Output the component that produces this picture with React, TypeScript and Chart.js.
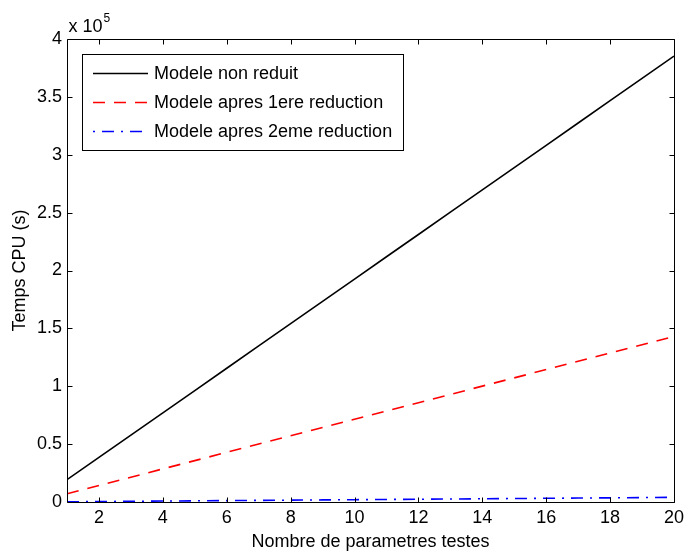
import { useEffect, useRef } from "react";
import { Chart, registerables } from "chart.js";

Chart.register(...registerables);

const params = [1, 2, 3, 4, 5, 6, 7, 8, 9, 10, 11, 12, 13, 14, 15, 16, 17, 18, 19, 20];
const nonReduit = [19260, 38520, 57780, 77040, 96300, 115560, 134820, 154080, 173340, 192600, 211860, 231120, 250380, 269640, 288900, 308160, 327420, 346680, 365940, 385200];
const reduction1 = [7150, 14300, 21450, 28600, 35750, 42900, 50050, 57200, 64350, 71500, 78650, 85800, 92950, 100100, 107250, 114400, 121550, 128700, 135850, 143000];
const reduction2 = [200, 400, 600, 800, 1000, 1200, 1400, 1600, 1800, 2000, 2200, 2400, 2600, 2800, 3000, 3200, 3400, 3600, 3800, 4000];
const seriesLabels = ["Modele non reduit", "Modele apres 1ere reduction", "Modele apres 2eme reduction"];
const xTicks = [2, 4, 6, 8, 10, 12, 14, 16, 18, 20];
const yTicks = [0, 50000, 100000, 150000, 200000, 250000, 300000, 350000, 400000];
const yTickLabels = ["0", "0.5", "1", "1.5", "2", "2.5", "3", "3.5", "4"];
const xTitle = "Nombre de parametres testes";
const yTitle = "Temps CPU (s)";

const FONT = '"Liberation Sans", Arial, Helvetica, sans-serif';

const framePlugin = {
  id: "matlabFrame",
  afterDraw(chart: any) {
    const { ctx, chartArea: a, scales } = chart;
    const xs = scales.x;
    const ys = scales.y;
    ctx.save();
    ctx.strokeStyle = "#000";
    ctx.lineWidth = 1;
    const L = Math.round(a.left) + 0.5;
    const R = Math.round(a.right) + 0.5;
    const T = Math.round(a.top) + 0.5;
    const B = Math.round(a.bottom) + 0.5;
    ctx.beginPath();
    ctx.rect(L, T, R - L, B - T);
    ctx.stroke();
    const tl = 5;
    ctx.beginPath();
    xTicks.forEach((v) => {
      const px = Math.round(xs.getPixelForValue(v)) + 0.5;
      ctx.moveTo(px, B);
      ctx.lineTo(px, B - tl);
      ctx.moveTo(px, T);
      ctx.lineTo(px, T + tl);
    });
    yTicks.forEach((v) => {
      const py = Math.round(ys.getPixelForValue(v)) + 0.5;
      ctx.moveTo(L, py);
      ctx.lineTo(L + tl, py);
      ctx.moveTo(R, py);
      ctx.lineTo(R - tl, py);
    });
    ctx.stroke();

    // multiplier
    ctx.fillStyle = "#000";
    ctx.font = `18px ${FONT}`;
    ctx.textBaseline = "alphabetic";
    ctx.textAlign = "left";
    ctx.fillText("x 10", L + 1, 32);
    const w = ctx.measureText("x 10").width;
    ctx.font = `12px ${FONT}`;
    ctx.fillText("5", L + 1 + w + 1, 22);

    // axis titles
    ctx.font = `18px ${FONT}`;
    ctx.textAlign = "center";
    ctx.textBaseline = "alphabetic";
    ctx.fillText(xTitle, (a.left + a.right) / 2, 547);
    ctx.save();
    ctx.translate(25, (a.top + a.bottom) / 2);
    ctx.rotate(-Math.PI / 2);
    ctx.fillText(yTitle, 0, 0);
    ctx.restore();

    // legend
    const bx = 82.5, by = 54.5, bw = 321, bh = 96;
    ctx.fillStyle = "#fff";
    ctx.fillRect(bx, by, bw, bh);
    ctx.strokeStyle = "#000";
    ctx.lineWidth = 1;
    ctx.strokeRect(bx, by, bw, bh);
    const rows = [73, 102, 131];
    chart.data.datasets.forEach((ds: any, i: number) => {
      const y = rows[i] + 0.5;
      ctx.save();
      ctx.strokeStyle = ds.borderColor;
      ctx.lineWidth = ds.borderWidth;
      ctx.setLineDash(ds.legendDash || ds.borderDash || []);
      ctx.beginPath();
      ctx.moveTo(93, y);
      ctx.lineTo(148, y);
      ctx.stroke();
      ctx.restore();
      ctx.fillStyle = "#000";
      ctx.font = `18px ${FONT}`;
      ctx.textAlign = "left";
      ctx.textBaseline = "alphabetic";
      ctx.fillText(ds.label, 154, rows[i] + 6);
    });
    ctx.restore();
  },
};

export default function App() {
  const ref = useRef<HTMLCanvasElement | null>(null);
  useEffect(() => {
    if (!ref.current) return;
    const chart = new Chart(ref.current, {
      type: "line",
      data: {
        datasets: [
          {
            label: seriesLabels[0],
            data: params.map((x, i) => ({ x, y: nonReduit[i] })),
            borderColor: "#000000",
            borderWidth: 1.6,
            pointRadius: 0,
            fill: false,
          },
          {
            label: seriesLabels[1],
            data: params.map((x, i) => ({ x, y: reduction1[i] })),
            borderColor: "#ff0000",
            borderWidth: 1.6,
            borderDash: [12, 9],
            pointRadius: 0,
            fill: false,
          },
          {
            label: seriesLabels[2],
            data: params.map((x, i) => ({ x, y: reduction2[i] })),
            borderColor: "#0000ff",
            borderWidth: 1.6,
            borderDash: [12, 7, 2, 7],
            legendDash: [2, 7, 12, 7],
            pointRadius: 0,
            fill: false,
          },
        ],
      },
      options: {
        animation: false,
        responsive: false,
        devicePixelRatio: 1,
        layout: { padding: { top: 39, right: 10, left: 0, bottom: 0 } },
        plugins: { legend: { display: false }, tooltip: { enabled: false } },
        scales: {
          x: {
            type: "linear",
            min: 1,
            max: 20,
            grid: { display: false, drawTicks: false, tickLength: 0 },
            border: { display: false },
            afterBuildTicks: (s: any) => {
              s.ticks = xTicks.map((v) => ({ value: v }));
            },
            afterFit: (s: any) => {
              s.height = 50;
              s.paddingRight = 0;
              s.paddingLeft = 0;
            },
            ticks: {
              color: "#000",
              font: { family: FONT, size: 18 },
              padding: 5,
              maxRotation: 0,
              autoSkip: false,
              callback: (v: any) => String(v),
            },
          },
          y: {
            type: "linear",
            min: 0,
            max: 400000,
            grid: { display: false, drawTicks: false, tickLength: 0 },
            border: { display: false },
            afterBuildTicks: (s: any) => {
              s.ticks = yTicks.map((v) => ({ value: v }));
            },
            afterFit: (s: any) => {
              s.width = 67;
              s.paddingTop = 0;
              s.paddingBottom = 0;
            },
            ticks: {
              color: "#000",
              font: { family: FONT, size: 18 },
              padding: 5,
              autoSkip: false,
              callback: (v: any) => {
                const idx = yTicks.indexOf(Number(v));
                return idx >= 0 ? yTickLabels[idx] : "";
              },
            },
          },
        },
      },
      plugins: [framePlugin],
    });
    return () => chart.destroy();
  }, []);
  return (
    <div style={{ position: "absolute", left: 0, top: 0, width: 684, height: 552, background: "#fff" }}>
      <canvas ref={ref} width={684} height={552} style={{ width: 684, height: 552 }} />
    </div>
  );
}
